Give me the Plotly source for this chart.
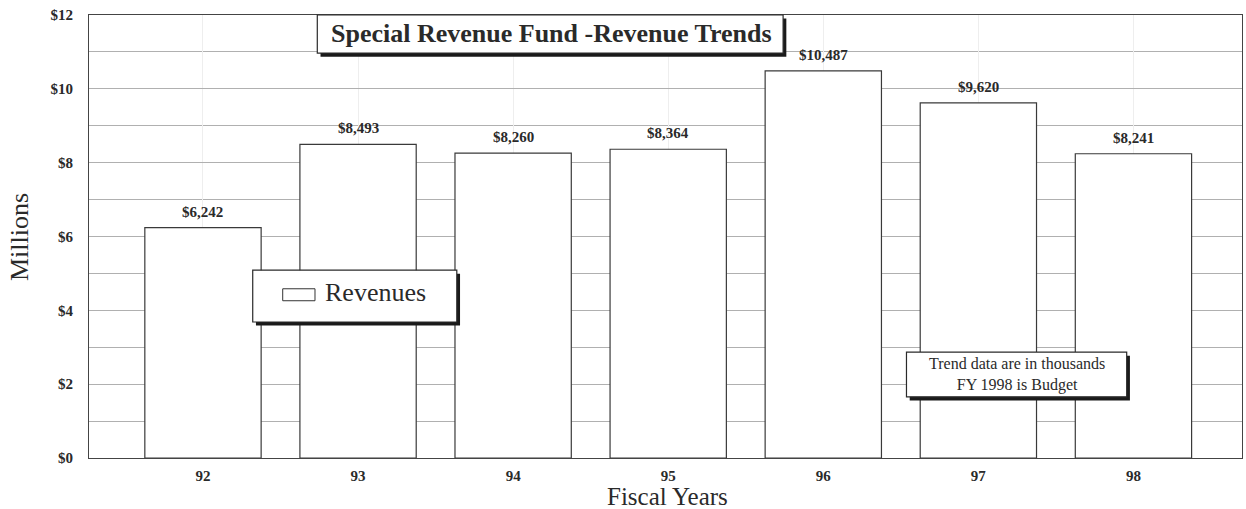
import plotly.graph_objects as go

# Special Revenue Fund revenues by fiscal year (in thousands of dollars)
fiscal_years = ["92", "93", "94", "95", "96", "97", "98"]
revenues_thousands = [6242, 8493, 8260, 8364, 10487, 9620, 8241]
value_labels = ["$6,242", "$8,493", "$8,260", "$8,364", "$10,487", "$9,620", "$8,241"]
y_tick_values = [0, 2, 4, 6, 8, 10, 12]
y_tick_labels = ["$0", "$2", "$4", "$6", "$8", "$10", "$12"]

revenues_millions = [v / 1000 for v in revenues_thousands]
x_pos = list(range(len(fiscal_years)))

SERIF = "Liberation Serif, Times New Roman, serif"
INK = "#2a2a2a"

fig = go.Figure()
fig.add_trace(go.Bar(
    x=x_pos,
    y=revenues_millions,
    width=0.75,
    marker=dict(color="white", line=dict(color="#3a3a3a", width=1.2)),
    showlegend=False,
    hoverinfo="skip",
))

# value labels above each bar
for xi, v, lab in zip(x_pos, revenues_millions, value_labels):
    fig.add_annotation(
        x=xi, y=v, text=f"<b>{lab}</b>", showarrow=False,
        xanchor="center", yanchor="bottom", yshift=6,
        font=dict(family=SERIF, size=15, color=INK),
    )

# boxed panels with a drop shadow
def shadow_box(x0, y0, x1, y1, dx=0.0028, dy=0.008):
    fig.add_shape(type="rect", xref="paper", yref="paper",
                  x0=x0 + dx, x1=x1 + dx, y0=y0 - dy, y1=y1 - dy,
                  fillcolor="#1a1a1a", line=dict(width=0), layer="above")
    fig.add_shape(type="rect", xref="paper", yref="paper",
                  x0=x0, x1=x1, y0=y0, y1=y1,
                  fillcolor="white", line=dict(color="#2a2a2a", width=1.2), layer="above")

# title box
shadow_box(0.198, 0.914, 0.602, 1.0)
fig.add_annotation(xref="paper", yref="paper", x=0.4007, y=0.959,
                   xanchor="center", yanchor="middle",
                   text="<b>Special Revenue Fund -Revenue Trends</b>", showarrow=False,
                   font=dict(family=SERIF, size=26, color=INK))

# legend box
shadow_box(0.142, 0.307, 0.319, 0.424)
fig.add_shape(type="rect", xref="paper", yref="paper",
              x0=0.168, x1=0.196, y0=0.355, y1=0.382,
              fillcolor="white", line=dict(color="#333333", width=1), layer="above")
fig.add_annotation(xref="paper", yref="paper", x=0.203, y=0.373,
                   xanchor="left", yanchor="middle",
                   text="Revenues", showarrow=False,
                   font=dict(family=SERIF, size=26, color=INK))

# note box
shadow_box(0.709, 0.138, 0.900, 0.239)
fig.add_annotation(xref="paper", yref="paper", x=0.8045, y=0.189,
                   xanchor="center", yanchor="middle",
                   text="Trend data are in thousands<br>FY 1998 is Budget", showarrow=False,
                   font=dict(family=SERIF, size=16, color=INK))

# axis titles
fig.add_annotation(xref="paper", yref="paper", x=-0.0598, y=0.499,
                   xanchor="center", yanchor="middle", textangle=-90,
                   text="Millions", showarrow=False,
                   font=dict(family=SERIF, size=26, color=INK))
fig.add_annotation(xref="paper", yref="paper", x=0.502, y=-0.0858,
                   xanchor="center", yanchor="middle",
                   text="Fiscal Years", showarrow=False,
                   font=dict(family=SERIF, size=25, color=INK))

fig.update_layout(
    width=1246, height=509,
    margin=dict(l=89, r=4, t=15, b=51),
    paper_bgcolor="white", plot_bgcolor="white",
    bargap=0.25,
    xaxis=dict(
        range=[-0.735, 6.70],
        tickmode="array", tickvals=x_pos,
        ticktext=[f"<b>{y}</b>" for y in fiscal_years],
        tickfont=dict(family=SERIF, size=15, color=INK),
        showgrid=True, gridcolor="#eeeeee", gridwidth=1,
        showline=True, linecolor="#444444", linewidth=1.2, mirror=True,
        ticks="", ticklabelstandoff=4,
    ),
    yaxis=dict(
        range=[0, 12],
        tickmode="array", tickvals=y_tick_values,
        ticktext=[f"<b>{t}</b>" for t in y_tick_labels],
        tickfont=dict(family=SERIF, size=15, color=INK),
        showgrid=True, gridcolor="#b0b0b0", gridwidth=1,
        minor=dict(dtick=1, showgrid=True, gridcolor="#b0b0b0", gridwidth=1),
        showline=True, linecolor="#444444", linewidth=1.2, mirror=True,
        zeroline=False, ticks="", ticklabelstandoff=12,
    ),
)

fig.write_html("out.html")
